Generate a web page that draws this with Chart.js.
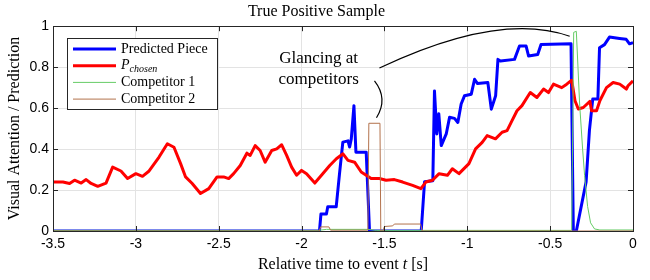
<!DOCTYPE html>
<html>
<head>
<meta charset="utf-8">
<script src="https://cdn.jsdelivr.net/npm/chart.js@4.4.1/dist/chart.umd.min.js"></script>
<style>
  html, body { margin: 0; padding: 0; background: #fff; }
  #wrap { width: 650px; height: 280px; }
</style>
</head>
<body>
<div id="wrap"><canvas id="id_canv"></canvas></div>
<script>
// Data (time in s, value 0..1)
const tBlue = [-3.5, -1.892, -1.883, -1.85, -1.842, -1.791, -1.771, -1.751, -1.72, -1.71, -1.70, -1.684, -1.672, -1.61, -1.59,
  -1.278, -1.258, -1.208, -1.198, -1.184, -1.172, -1.157, -1.127, -1.107, -1.077, -1.057, -1.037, -1.017, -0.976, -0.956,
  -0.938, -0.876, -0.855, -0.829, -0.815, -0.80, -0.715, -0.685, -0.645, -0.63, -0.575, -0.555, -0.374, -0.36, -0.342,
  -0.283, -0.263, -0.243, -0.212, -0.202, -0.172, -0.142, -0.081, -0.041, -0.021, 0]
const vBlue = [0, 0, 0.083, 0.083, 0.118, 0.118, 0.28, 0.434, 0.44, 0.41, 0.45, 0.612, 0.385, 0.385, 0,
  0, 0.24, 0.245, 0.684, 0.474, 0.573, 0.417, 0.474, 0.555, 0.55, 0.53, 0.62, 0.66, 0.668, 0.741,
  0.72, 0.725, 0.595, 0.66, 0.838, 0.83, 0.838, 0.903, 0.903, 0.854, 0.862, 0.911, 0.914, 0, 0,
  0.24, 0.49, 0.644, 0.644, 0.895, 0.91, 0.947, 0.94, 0.936, 0.914, 0.92]

const tRed = [-3.5, -3.44, -3.40, -3.37, -3.33, -3.30, -3.27, -3.23, -3.18, -3.14,
  -3.09, -3.05, -3.00, -2.96, -2.92, -2.86, -2.81, -2.77, -2.73, -2.70,
  -2.66, -2.61, -2.56, -2.51, -2.47, -2.44, -2.41, -2.37, -2.33, -2.31,
  -2.28, -2.25, -2.22, -2.18, -2.15, -2.12, -2.09, -2.06, -2.03, -2.00,
  -1.97, -1.92, -1.88, -1.83, -1.79, -1.75, -1.72, -1.68, -1.64, -1.61,
  -1.58, -1.53, -1.49, -1.44, -1.39, -1.33, -1.28, -1.25, -1.21, -1.17,
  -1.12, -1.09, -1.05, -0.99, -0.95, -0.91, -0.88, -0.83, -0.79, -0.76,
  -0.73, -0.70, -0.67, -0.62, -0.58, -0.54, -0.51, -0.48, -0.43, -0.40,
  -0.37, -0.35, -0.33, -0.30, -0.26, -0.25, -0.22, -0.20, -0.16, -0.12,
  -0.08, -0.04, -0.03, 0]
const vRed = [0.239, 0.239, 0.232, 0.248, 0.234, 0.251, 0.232, 0.218, 0.234, 0.312,
  0.293, 0.256, 0.28, 0.267, 0.293, 0.361, 0.426, 0.409, 0.329, 0.264,
  0.232, 0.183, 0.207, 0.264, 0.264, 0.256, 0.28, 0.32, 0.38, 0.369,
  0.417, 0.393, 0.336, 0.393, 0.401, 0.421, 0.369, 0.312, 0.272, 0.296,
  0.28, 0.234, 0.272, 0.32, 0.353, 0.377, 0.345, 0.336, 0.288, 0.272,
  0.256, 0.256, 0.248, 0.251, 0.239, 0.223, 0.207, 0.239, 0.248, 0.28,
  0.272, 0.304, 0.28, 0.329, 0.401, 0.433, 0.466, 0.45, 0.482, 0.49,
  0.539, 0.587, 0.612, 0.676, 0.652, 0.693, 0.676, 0.717, 0.70, 0.717,
  0.736, 0.636, 0.596, 0.603, 0.633, 0.587, 0.587, 0.636, 0.70, 0.725,
  0.717, 0.693, 0.709, 0.733]

const tGreen = [-3.5, -1.9, -1.85, -1.6, -1.55, -0.37, -0.358, -0.342, -0.332, -0.322, -0.304, -0.292, -0.274, -0.256, -0.232, -0.2, 0]
const vGreen = [0.003, 0.003, 0.008, 0.008, 0.003, 0.003, 0.97, 0.975, 0.8, 0.62, 0.40, 0.27, 0.12, 0.04, 0.01, 0.005, 0.005]

const tBrown = [-3.5, -1.893, -1.885, -1.835, -1.825, -1.60, -1.594, -1.527, -1.522, -1.509, -1.50, -1.45, -1.44, -1.282, -1.272, 0]
const vBrown = [0, 0, 0.02, 0.02, 0.004, 0.004, 0.526, 0.526, 0, 0, 0.022, 0.025, 0.034, 0.034, 0, 0]

const xTicks = [-3.5, -3, -2.5, -2, -1.5, -1, -0.5, 0]
const yTicks = [0, 0.2, 0.4, 0.6, 0.8, 1]

const seriesNames = ['Predicted Piece', 'P', 'Competitor 1', 'Competitor 2']
const seriesColors = ['#0000ff', '#ff0000', '#66cc66', '#b3724c']
const seriesWidths = [3, 3, 1, 1]

const noteLines = ['Glancing at', 'competitors']
// annotation arrows in data units: start, control, end
const noteText = { t: -1.897, v: [0.843, 0.741] }
const noteCurves = [
  [[-1.53, 0.796], [-0.805, 1.073], [-0.382, 0.951]],
  [[-1.56, 0.733], [-1.476, 0.646], [-1.548, 0.553]],
]

const serif = '"Liberation Serif", "Times New Roman", serif'
const sans = '"Liberation Sans", Arial, sans-serif'

function pts(ts, vs) {
  return ts.map((t, i) => ({ x: t, y: vs[i] }))
}

function fmt(v) {
  return String(Math.round(v * 10) / 10)
}

// frame, inward ticks, x title, legend and annotation drawn on top of the lines
const extras = {
  id: 'extras',
  afterDatasetsDraw(chart) {
    let c = chart.ctx
    let a = chart.chartArea
    let xs = chart.scales.x
    let ys = chart.scales.y
    c.save()
    c.strokeStyle = '#262626'
    c.lineWidth = 1
    c.beginPath()
    xTicks.forEach(t => {
      let px = Math.round(xs.getPixelForValue(t)) + 0.5
      c.moveTo(px, a.bottom); c.lineTo(px, a.bottom - 5)
      c.moveTo(px, a.top); c.lineTo(px, a.top + 5)
    })
    yTicks.forEach(v => {
      let py = Math.round(ys.getPixelForValue(v)) + 0.5
      c.moveTo(a.left, py); c.lineTo(a.left + 5, py)
      c.moveTo(a.right, py); c.lineTo(a.right - 5, py)
    })
    c.stroke()
    c.strokeRect(Math.round(a.left) + 0.5, Math.round(a.top) + 0.5, Math.round(a.right - a.left), Math.round(a.bottom - a.top))

    // x axis title with italic t
    c.fillStyle = '#000'
    c.textBaseline = 'middle'
    c.textAlign = 'left'
    let parts = [['Relative time to event ', ''], ['t', 'italic '], [' [s]', '']]
    let total = 0
    parts.forEach(p => { c.font = p[1] + '16px ' + serif; total += c.measureText(p[0]).width })
    let tx = (a.left + a.right) / 2 - total / 2
    parts.forEach(p => {
      c.font = p[1] + '16px ' + serif
      c.fillText(p[0], tx, 265)
      tx += c.measureText(p[0]).width
    })

    // annotation
    c.font = '17px ' + serif
    c.textAlign = 'center'
    noteLines.forEach((s, i) => {
      c.fillText(s, xs.getPixelForValue(noteText.t), ys.getPixelForValue(noteText.v[i]))
    })
    c.strokeStyle = '#000'
    c.lineWidth = 1.2
    noteCurves.forEach(cv => {
      c.beginPath()
      c.moveTo(xs.getPixelForValue(cv[0][0]), ys.getPixelForValue(cv[0][1]))
      c.quadraticCurveTo(xs.getPixelForValue(cv[1][0]), ys.getPixelForValue(cv[1][1]),
        xs.getPixelForValue(cv[2][0]), ys.getPixelForValue(cv[2][1]))
      c.stroke()
    })

    // legend box
    let lx = 67, ly = 38, lw = 150, lh = 71
    c.fillStyle = '#fff'
    c.fillRect(lx, ly, lw, lh)
    c.strokeStyle = '#262626'
    c.lineWidth = 1
    c.strokeRect(lx + 0.5, ly + 0.5, lw, lh)
    c.textAlign = 'left'
    seriesNames.forEach((name, i) => {
      let y = ly + 11 + i * 16.7
      c.strokeStyle = seriesColors[i]
      c.lineWidth = seriesWidths[i]
      c.beginPath()
      c.moveTo(lx + 6, y); c.lineTo(lx + 49, y)
      c.stroke()
      c.fillStyle = '#000'
      if (i === 1) {
        c.font = 'italic 14px ' + serif
        c.fillText(name, lx + 54, y)
        let w = c.measureText(name).width
        c.font = 'italic 10px ' + serif
        c.fillText('chosen', lx + 54 + w, y + 4)
      } else {
        c.font = '14px ' + serif
        c.fillText(name, lx + 54, y)
      }
    })
    c.restore()
  }
}

let canv = document.getElementById('id_canv')
new Chart(canv.getContext('2d'), {
  type: 'line',
  data: {
    // drawn in reverse: brown ends on top, blue at the bottom
    datasets: [3, 2, 1, 0].map(i => ({
      label: seriesNames[i],
      data: pts([tBlue, tRed, tGreen, tBrown][i], [vBlue, vRed, vGreen, vBrown][i]),
      borderColor: seriesColors[i],
      borderWidth: seriesWidths[i],
      pointRadius: 0,
      tension: 0,
      fill: false,
      borderJoinStyle: 'round',
    })),
  },
  options: {
    responsive: true,
    maintainAspectRatio: false,
    animation: false,
    layout: { padding: { left: 0, right: 17, top: 0, bottom: 0 } },
    plugins: {
      legend: { display: false },
      tooltip: { enabled: false },
      title: {
        display: true,
        text: 'True Positive Sample',
        color: '#000',
        font: { family: serif, size: 16, weight: 'normal' },
        padding: { top: 2, bottom: 5 },
      },
    },
    scales: {
      x: {
        type: 'linear',
        min: -3.5,
        max: 0,
        afterBuildTicks: s => { s.ticks = xTicks.map(v => ({ value: v })) },
        afterFit: s => { s.height = 49 },
        grid: { color: '#e3e3e3', drawTicks: false },
        border: { display: false },
        ticks: { color: '#000', font: { family: sans, size: 14 }, padding: 5, maxRotation: 0, callback: fmt },
        title: { display: false },
      },
      y: {
        min: 0,
        max: 1,
        afterBuildTicks: s => { s.ticks = yTicks.map(v => ({ value: v })) },
        afterFit: s => { s.width = 53 },
        grid: { color: '#e3e3e3', drawTicks: false },
        border: { display: false },
        ticks: { color: '#000', font: { family: sans, size: 14 }, padding: 4, callback: fmt },
        title: {
          display: true,
          text: 'Visual Attention / Prediction',
          color: '#000',
          font: { family: serif, size: 16 },
          padding: { top: 5, bottom: 0 },
        },
      },
    },
  },
  plugins: [extras],
})
</script>
</body>
</html>
